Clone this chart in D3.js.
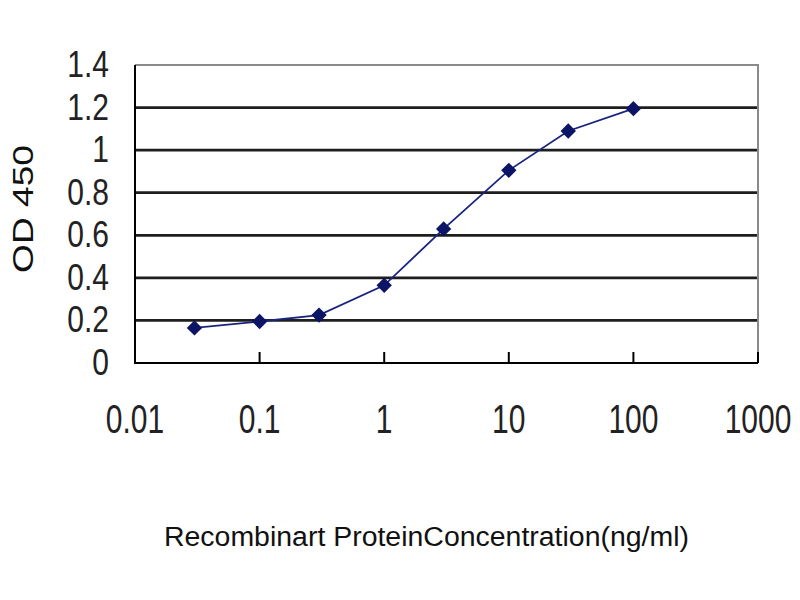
<!DOCTYPE html>
<html>
<head>
<meta charset="utf-8">
<script src="https://cdn.jsdelivr.net/npm/d3@7"></script>
<style>
  body { margin: 0; background: #fff; }
  svg { display: block; }
</style>
</head>
<body>
<svg id="chart"></svg>
<script>
const width = 800, height = 600;

// data
const concentrations = [0.03, 0.1, 0.3, 1, 3, 10, 30, 100];
const od450 = [0.165, 0.195, 0.225, 0.365, 0.63, 0.905, 1.09, 1.195];
const xTicks = [0.01, 0.1, 1, 10, 100, 1000];
const xTickLabels = ["0.01", "0.1", "1", "10", "100", "1000"];
const yTicks = [0, 0.2, 0.4, 0.6, 0.8, 1, 1.2, 1.4];
const yTickLabels = ["0", "0.2", "0.4", "0.6", "0.8", "1", "1.2", "1.4"];

const margin = {top: 65, right: 42, bottom: 237, left: 135};

const svg = d3.select("#chart")
  .attr("width", width)
  .attr("height", height);

const x = d3.scaleLog()
  .domain([0.01, 1000])
  .range([margin.left, width - margin.right]);

const y = d3.scaleLinear()
  .domain([0, 1.4])
  .range([height - margin.bottom, margin.top]);

const font = "Arial, 'Liberation Sans', sans-serif";

// horizontal gridlines
svg.append("g")
  .selectAll("line")
  .data(yTicks.filter(d => d > 0 && d < 1.4))
  .join("line")
  .attr("x1", x(0.01))
  .attr("x2", x(1000))
  .attr("y1", d => y(d))
  .attr("y2", d => y(d))
  .style("stroke", "#1e1e1e")
  .style("stroke-width", 2.8);

// top & right border of the plot area (lighter)
svg.append("path")
  .attr("d", "M" + x(0.01) + "," + y(1.4) + "H" + x(1000) + "V" + y(0))
  .style("fill", "none")
  .style("stroke", "#8a8a8a")
  .style("stroke-width", 2);

// left and bottom axes
svg.append("path")
  .attr("d", "M" + x(0.01) + "," + y(1.4) + "V" + y(0) + "H" + x(1000))
  .style("fill", "none")
  .style("stroke", "#000")
  .style("stroke-width", 2);

// x tick marks pointing into the plot
svg.append("g")
  .selectAll("line")
  .data(xTicks.slice(1))
  .join("line")
  .attr("x1", d => x(d))
  .attr("x2", d => x(d))
  .attr("y1", y(0))
  .attr("y2", y(0) - 11)
  .style("stroke", "#000")
  .style("stroke-width", 2);

// y tick labels
svg.append("g")
  .selectAll("text")
  .data(yTicks)
  .join("text")
  .attr("transform", d => "translate(109," + (y(d) + 12) + ") scale(1,1.22)")
  .attr("text-anchor", "end")
  .style("font-family", font)
  .style("font-size", "30px")
  .style("fill", "#222")
  .text((d, i) => yTickLabels[i]);

// x tick labels
svg.append("g")
  .selectAll("text")
  .data(xTicks)
  .join("text")
  .attr("transform", d => "translate(" + x(d) + ",433) scale(1,1.35)")
  .attr("text-anchor", "middle")
  .style("font-family", font)
  .style("font-size", "30px")
  .style("fill", "#222")
  .text((d, i) => xTickLabels[i]);

// axis titles
svg.append("text")
  .attr("x", 164)
  .attr("y", 546)
  .attr("textLength", 525)
  .attr("lengthAdjust", "spacingAndGlyphs")
  .style("font-family", font)
  .style("font-size", "27px")
  .style("fill", "#111")
  .text("Recombinart ProteinConcentration(ng/ml)");

svg.append("text")
  .attr("transform", "translate(33,273) rotate(-90)")
  .attr("textLength", 128)
  .attr("lengthAdjust", "spacingAndGlyphs")
  .style("font-family", font)
  .style("font-size", "29px")
  .style("fill", "#111")
  .text("OD 450");

// series line
const points = concentrations.map((c, i) => ({c: c, v: od450[i]}));

svg.append("path")
  .datum(points)
  .attr("d", d3.line().x(d => x(d.c)).y(d => y(d.v)))
  .style("fill", "none")
  .style("stroke", "#1a237e")
  .style("stroke-width", 1.8);

// diamond markers
svg.append("g")
  .selectAll("path")
  .data(points)
  .join("path")
  .attr("transform", d => "translate(" + x(d.c) + "," + y(d.v) + ")")
  .attr("d", d3.symbol().type(d3.symbolDiamond2).size(150))
  .style("fill", "#0c1466");
</script>
</body>
</html>
